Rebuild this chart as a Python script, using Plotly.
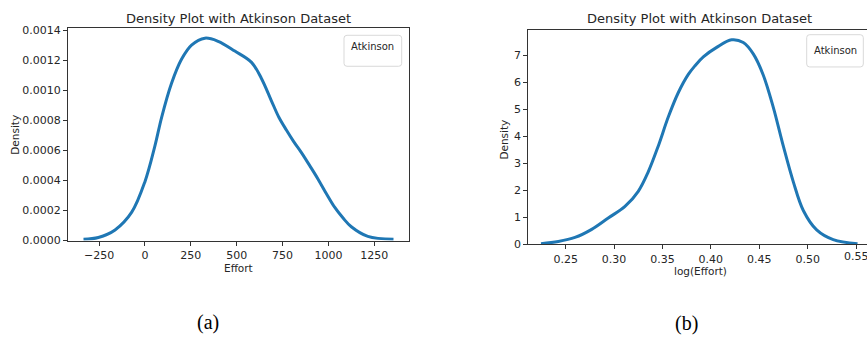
import plotly.graph_objects as go

# figure fills the 867x349 page exactly (the body margin is removed below)
OX, OY = 0, 0
W, H = 867, 349

# ---- data ----
effort_x = [-335, -254, -163, -72, 0, 54, 91, 145, 200, 254, 327, 399, 490,
            581, 635, 690, 730, 771, 810, 853, 900, 943, 990, 1034, 1080,
            1125, 1215, 1355]
effort_density = [0.000009, 0.000021, 0.000071, 0.000189, 0.000392, 0.000628,
                  0.00082, 0.001046, 0.001207, 0.0013, 0.001346, 0.001325,
                  0.00126, 0.001185, 0.001078, 0.000928, 0.00082, 0.000735,
                  0.00066, 0.000585, 0.000495, 0.00041, 0.00031, 0.000222,
                  0.00015, 0.000092, 0.000028, 0.000009]

log_x = [0.2245, 0.2424, 0.2596, 0.2769, 0.294, 0.3113, 0.325, 0.3353, 0.3457,
         0.356, 0.3663, 0.3767, 0.3836, 0.3922, 0.406, 0.4215, 0.4335, 0.4438,
         0.4541, 0.4645, 0.4748, 0.4851, 0.4955, 0.5093, 0.5264, 0.5515]
log_density = [0.03, 0.11, 0.26, 0.56, 0.98, 1.41, 1.97, 2.69, 3.65, 4.72,
               5.62, 6.30, 6.62, 6.95, 7.30, 7.58, 7.48, 7.06, 6.28, 5.08, 3.65,
               2.33, 1.26, 0.54, 0.18, 0.03]

left_xticks = [-250, 0, 250, 500, 750, 1000, 1250]
left_xtext = ["\u2212250", "0", "250", "500", "750", "1000", "1250"]
left_yticks = [0, 0.0002, 0.0004, 0.0006, 0.0008, 0.0010, 0.0012, 0.0014]
right_xticks = [0.25, 0.30, 0.35, 0.40, 0.45, 0.50, 0.55]
right_yticks = [0, 1, 2, 3, 4, 5, 6, 7]

title_text = "Density Plot with Atkinson Dataset"
legend_title = "Atkinson"
captions = ["(a)", "(b)"]

# ---- layout helpers (page pixels -> paper fractions) ----
def px(x):
    return (x - OX) / W

def py(y):
    return 1 - (y - OY) / H

LINE = "#1f77b4"
TXT = "#262626"
SPINE = "#333333"
FONT = "DejaVu Sans"

fig = go.Figure()
fig.add_trace(go.Scatter(x=effort_x, y=effort_density, mode="lines",
                         line=dict(color=LINE, width=3, shape="spline", smoothing=1.0),
                         xaxis="x", yaxis="y", showlegend=False, hoverinfo="skip"))
fig.add_trace(go.Scatter(x=log_x, y=log_density, mode="lines",
                         line=dict(color=LINE, width=3, shape="spline", smoothing=1.0),
                         xaxis="x2", yaxis="y2", showlegend=False, hoverinfo="skip"))

axis_common = dict(showgrid=False, zeroline=False, showline=True, linecolor=SPINE,
                   linewidth=1, ticks="outside", ticklen=4, tickwidth=1,
                   tickcolor=SPINE, tickfont=dict(family=FONT, size=11, color=TXT))

fig.update_layout(
    width=W, height=H, margin=dict(l=0, r=0, t=0, b=0),
    paper_bgcolor="white", plot_bgcolor="white",
    xaxis=dict(domain=[px(68), px(409)], range=[-419.5, 1439.5], anchor="y",
               tickvals=left_xticks, ticktext=left_xtext, mirror=True, **axis_common),
    yaxis=dict(domain=[py(244.3), py(25)], range=[0, 0.001412], anchor="x",
               tickvals=left_yticks, tickformat=".4f", mirror=True, **axis_common),
    xaxis2=dict(domain=[px(528.3), 1.0], range=[0.2114, 0.5613], anchor="y2",
                tickvals=right_xticks, tickformat=".2f", mirror=True, **axis_common),
    yaxis2=dict(domain=[py(248.3), py(26.7)], range=[0, 7.95], anchor="x2",
                tickvals=right_yticks, mirror=False, **axis_common),
)

ann = []
def text(x, y, s, size=10, angle=0, family=FONT, color=TXT, xref="paper", xval=None):
    ann.append(dict(x=px(x) if xval is None else xval, y=py(y), xref=xref, yref="paper",
                    text=s, showarrow=False, xanchor="center", yanchor="middle",
                    textangle=angle, font=dict(family=family, size=size, color=color)))

text(238.5, 15, title_text, size=13)
text(699, 15, title_text, size=13)
text(238.5, 273, "Effort", size=10.5)
text(700, 276, "log(Effort)", size=10.5)
text(15, 135, "Density", size=10.5, angle=-90)
text(504, 140, "Density", size=10.5, angle=-90)
text(372, 44, legend_title, size=10)
text(835, 47.5, legend_title, size=10)
text(208, 329, captions[0], size=20, family="Liberation Serif", color="#000000")
text(686, 330, captions[1], size=20, family="Liberation Serif", color="#000000")
# last tick label of the right x axis (plotly drops it at the page edge)
text(0, 261, f"{right_xticks[-1]:.2f}", size=11, xref="x2", xval=right_xticks[-1])

def rounded_box(x0, y0, x1, y1, r=3):
    pts = (f"M {px(x0 + r)},{py(y0)} L {px(x1 - r)},{py(y0)} "
           f"Q {px(x1)},{py(y0)} {px(x1)},{py(y0 + r)} "
           f"L {px(x1)},{py(y1 - r)} Q {px(x1)},{py(y1)} {px(x1 - r)},{py(y1)} "
           f"L {px(x0 + r)},{py(y1)} Q {px(x0)},{py(y1)} {px(x0)},{py(y1 - r)} "
           f"L {px(x0)},{py(y0 + r)} Q {px(x0)},{py(y0)} {px(x0 + r)},{py(y0)} Z")
    return dict(type="path", path=pts, xref="paper", yref="paper",
                line=dict(color="#d9d9d9", width=1), fillcolor="rgba(255,255,255,0.8)")

fig.update_layout(annotations=ann,
                  shapes=[rounded_box(344, 32.3, 401.7, 64.3),
                          rounded_box(806.7, 31.7, 863.3, 65)])

fig.write_html("out.html",
               config={"displayModeBar": False},
               post_script="document.body.style.margin='0';"
                           "document.body.style.overflow='hidden';")
